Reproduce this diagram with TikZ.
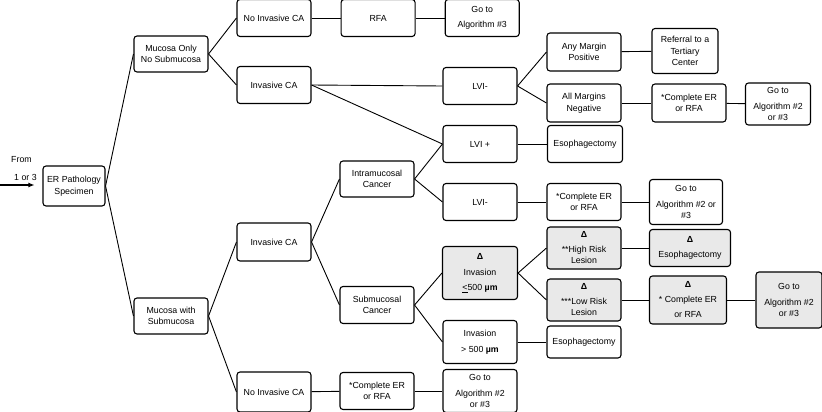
\documentclass[tikz,border=0pt]{standalone}
\usepackage{fontspec}
\setmainfont{Liberation Sans}
\usetikzlibrary{arrows.meta,positioning}

\newcommand{\riskmark}{{\bfseries Δ}}

\begin{document}
\begin{tikzpicture}[
    x=1pt, y=-1pt,
    every node/.style={font=\fontsize{8.8}{11.5}\selectfont},
    box/.style={
      rectangle, rounded corners=3pt, draw, line width=1.1pt,
      minimum width=74pt, minimum height=37pt,
      inner sep=1pt, align=center
    },
    shaded/.style={box, fill=gray!17},
    link/.style={line width=0.9pt},
    arr/.style={-{Latex[length=6pt,width=5pt]}, line width=1.1pt}
  ]
    \useasboundingbox (0,0) rectangle (822,412);

    % ── Entry ──
    \node[anchor=west, inner sep=0pt] (fromtxt) at (11,160) {From};
    \node[anchor=west, inner sep=0pt] (fromnum) at (14,177) {1 or 3};
    \coordinate (entry) at (0,185);
    \node[box, minimum width=62pt, minimum height=40pt] (er) at (74,186) {ER Pathology\\Specimen};

    % ── First split ──
    \node[box, minimum height=36pt] (mucosa) at (171,54) {Mucosa Only\\No Submucosa};
    \node[box, minimum height=36pt] (submucosa) at (171,316) {Mucosa with\\Submucosa};

    % ── Mucosa only ──
    \node[box] (noinvA) at (274,18) {No Invasive CA};
    \node[box, right=29pt of noinvA] (rfa) {RFA};
    \node[box, right=29pt of rfa] (algA) {Go to\\[4pt]Algorithm \#3};
    \node[box] (invA) at (274,85) {Invasive CA};
    \node[box] (lvinegA) at (480,86) {LVI-};
    \node[box, minimum height=38pt] (anypos) at (584,52) {Any Margin\\Positive};
    \node[box, minimum width=66pt, minimum height=45pt] (referral) at (685,51) {Referral to a\\Tertiary\\Center};
    \node[box, minimum height=38pt] (allneg) at (584,103) {All Margins\\Negative};
    \node[box, minimum height=38pt] (erA) at (689,103) {*Complete ER\\or RFA};
    \node[box, minimum width=65pt, minimum height=42pt] (algB) at (778,104) {Go to\\[4pt]Algorithm \#2\\or \#3};

    % ── Mucosa with submucosa ──
    \node[box, minimum height=38pt] (invB) at (274,242) {Invasive CA};
    \node[box, minimum height=36pt] (intra) at (377,179) {Intramucosal\\Cancer};
    \node[box] (lvipos) at (480,144) {LVI +};
    \node[box, minimum width=75pt] (esoA) at (585,144) {Esophagectomy};
    \node[box] (lvinegB) at (480,202) {LVI-};
    \node[box] (erB) at (584,202) {*Complete ER\\or RFA};
    \node[box, minimum width=73pt, minimum height=45pt] (algC) at (686,202) {Go to\\[4pt]Algorithm \#2 or\\\#3};
    \node[box] (submuc) at (377,305) {Submucosal\\Cancer};
    \node[shaded, minimum width=75pt, minimum height=53pt] (shallow) at (480,273) {\riskmark\\[4pt]Invasion\\[4pt]\underline{<}500 \textbf{µm}};
    \node[box, minimum height=43pt] (deep) at (480,342) {Invasion\\[4pt]> 500 \textbf{µm}};
    \node[shaded, minimum height=42pt] (highrisk) at (584,248) {\riskmark\\[3pt]**High Risk\\Lesion};
    \node[shaded, minimum width=81pt] (esoB) at (690,248) {\riskmark\\[3pt]Esophagectomy};
    \node[shaded, minimum height=42pt] (lowrisk) at (584,300) {\riskmark\\[3pt]***Low Risk\\Lesion};
    \node[shaded, minimum width=77pt, minimum height=48pt] (erC) at (688,300) {\riskmark\\[3pt]* Complete ER\\[4pt]or RFA};
    \node[shaded, minimum width=66pt, minimum height=56pt] (algD) at (789,300) {Go to\\[4pt]Algorithm \#2\\or \#3};
    \node[box, minimum height=32pt] (esoC) at (584,342) {Esophagectomy};
    \node[box, minimum height=40pt] (noinvB) at (274,392) {No Invasive CA};
    \node[box] (erD) at (377,391) {*Complete ER\\or RFA};
    \node[box, minimum height=43pt] (algE) at (480,391) {Go to\\[4pt]Algorithm \#2\\or \#3};

    % ── Arrow in ──
    \draw[arr, shorten >=8pt] (entry) -- (entry -| er.west);

    % ── Links ──
    \draw[link] (er.east) -- (mucosa.west);
    \draw[link] (er.east) -- (submucosa.west);
    \draw[link] (mucosa.east) -- (noinvA.west);
    \draw[link] (mucosa.east) -- (invA.west);
    \draw[link] (noinvA) -- (rfa);
    \draw[link] (rfa) -- (algA);
    \draw[link] (invA.east) -- (lvinegA.west);
    \draw[link] (invA.east) -- (lvipos.west);
    \draw[link] (lvinegA.east) -- (anypos.west);
    \draw[link] (lvinegA.east) -- (allneg.west);
    \draw[link] (anypos) -- (referral);
    \draw[link] (allneg) -- (erA);
    \draw[link] (erA) -- (algB);
    \draw[link] (lvipos) -- (esoA);

    \draw[link] (submucosa.east) -- (invB.west);
    \draw[link] (submucosa.east) -- (noinvB.west);
    \draw[link] (invB.east) -- (intra.west);
    \draw[link] (invB.east) -- (submuc.west);
    \draw[link] (intra.east) -- (lvipos.west);
    \draw[link] (intra.east) -- (lvinegB.west);
    \draw[link] (lvinegB) -- (erB);
    \draw[link] (erB) -- (algC);
    \draw[link] (submuc.east) -- (shallow.west);
    \draw[link] (submuc.east) -- (deep.west);
    \draw[link] (shallow.east) -- (highrisk.west);
    \draw[link] (shallow.east) -- (lowrisk.west);
    \draw[link] (highrisk) -- (esoB);
    \draw[link] (lowrisk) -- (erC);
    \draw[link] (erC) -- (algD);
    \draw[link] (deep) -- (esoC);
    \draw[link] (noinvB) -- (erD);
    \draw[link] (erD) -- (algE);
  \end{tikzpicture}
\end{document}
